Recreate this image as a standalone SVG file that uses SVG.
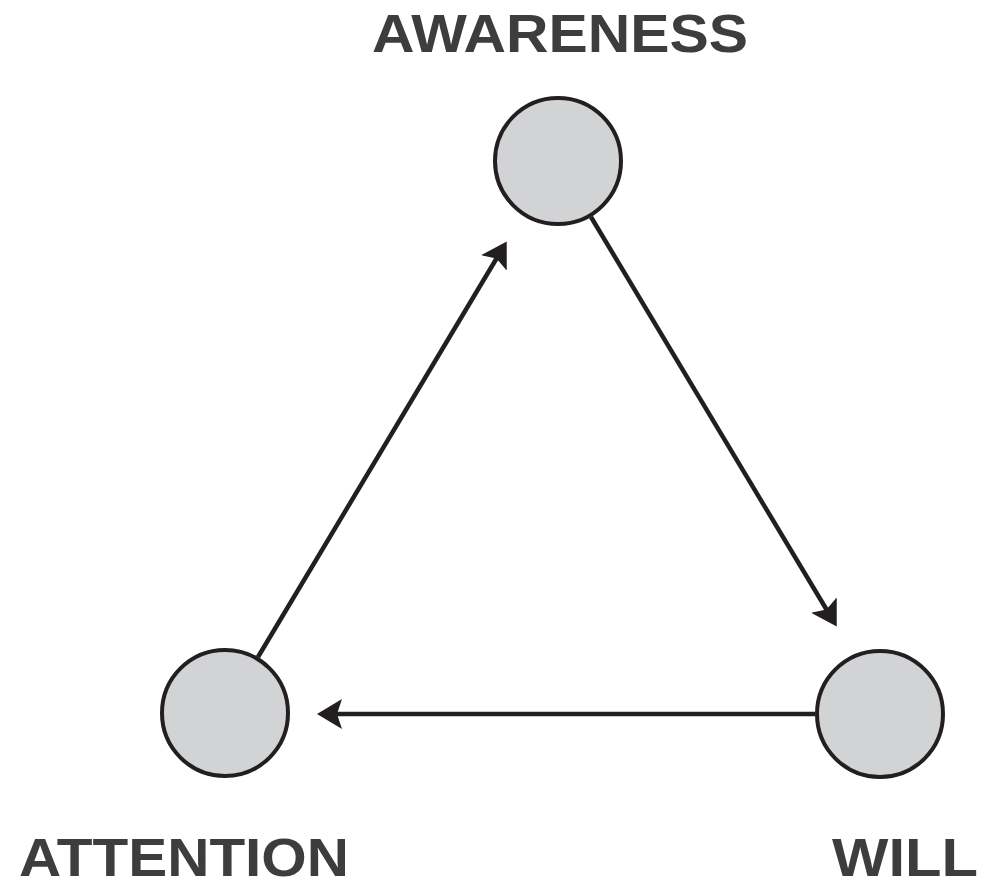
<svg xmlns="http://www.w3.org/2000/svg" width="983" height="887" viewBox="0 0 983 887">
  <style>
    .node { fill: #d1d3d4; stroke: #231f20; stroke-width: 4; }
    .lbl { font-family: "Liberation Sans", Arial, sans-serif; font-weight: bold; font-size: 53px; fill: #3d3d3d; text-anchor: middle; }
    .conn { stroke: #231f20; stroke-width: 4.5; fill: none; marker-end: url(#arrow); }
  </style>
  <defs>
    <marker id="arrow" markerUnits="userSpaceOnUse" markerWidth="26" markerHeight="30" refX="8" refY="15" orient="auto" viewBox="0 0 26 30">
      <path d="M0,0 L25,15 L0,30 L5,15 z" fill="#231f20"/>
    </marker>
  </defs>
  <rect width="983" height="887" fill="#ffffff"/>
  <g id="connectors">
    <line class="conn" x1="591" y1="217" x2="828" y2="612"/>
    <line class="conn" x1="815" y1="714" x2="334" y2="714"/>
    <line class="conn" x1="258" y1="657" x2="498" y2="256"/>
  </g>
  <g id="awareness">
    <circle class="node" cx="558" cy="161" r="63"/>
    <text class="lbl" x="560" y="52" textLength="376" lengthAdjust="spacingAndGlyphs">AWARENESS</text>
  </g>
  <g id="attention">
    <circle class="node" cx="225" cy="713" r="63"/>
    <text class="lbl" x="184" y="876" textLength="330" lengthAdjust="spacingAndGlyphs">ATTENTION</text>
  </g>
  <g id="will">
    <circle class="node" cx="880" cy="714" r="63"/>
    <text class="lbl" x="905" y="876" textLength="146" lengthAdjust="spacingAndGlyphs">WILL</text>
  </g>
</svg>
